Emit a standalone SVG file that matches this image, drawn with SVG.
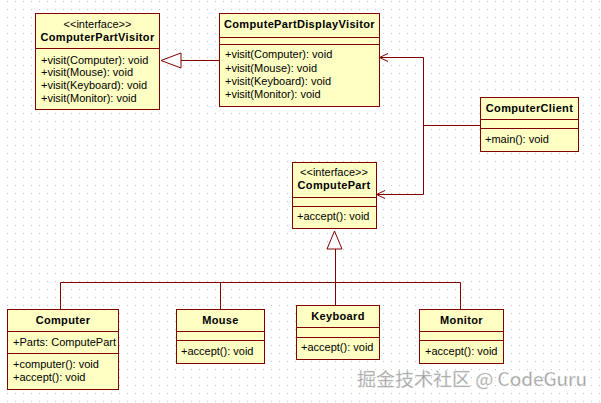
<svg xmlns="http://www.w3.org/2000/svg" width="601" height="403" viewBox="0 0 601 403">
<style>
.box{fill:#FFFFC4;stroke:#800000;stroke-width:1}
.sep{stroke:#800000;stroke-width:1}
.t{font-family:"Liberation Sans",Arial,sans-serif;font-size:11px;fill:#000}
.b{font-family:"Liberation Sans",Arial,sans-serif;font-size:11px;font-weight:bold;fill:#000;text-anchor:middle;letter-spacing:0.35px}
.c{text-anchor:middle}
.ln{fill:none;stroke:#800000;stroke-width:1}
.tri{fill:#fff;stroke:#800000;stroke-width:1}
.wm{font-family:"Noto Sans CJK SC","Noto Sans",sans-serif;font-size:18px;fill:#9a9a9a;stroke:#e8e8e8;stroke-width:0.4}
</style>
<defs>
<pattern id="grid" x="0" y="0" width="8" height="8" patternUnits="userSpaceOnUse">
<rect x="7" y="1" width="1" height="1" fill="#c4c4c4"/>
</pattern>
</defs>
<rect width="601" height="403" fill="#fff"/>
<rect width="601" height="403" fill="url(#grid)"/>

<g id="connectors">
<line class="ln" x1="181" y1="60.5" x2="219" y2="60.5"/>
<polygon class="tri" points="161,60.5 181,53 181,68"/>
<polyline class="ln" points="379,57.5 423.5,57.5 423.5,194.5 376,194.5"/>
<line class="ln" x1="423.5" y1="125.5" x2="480" y2="125.5"/>
<polyline class="ln" points="388,53.5 379.5,57.5 388,61.5"/>
<polyline class="ln" points="385,190.5 376.5,194.5 385,198.5"/>
<polygon class="tri" points="334.5,231 327,249 342,249"/>
<line class="ln" x1="335.5" y1="249" x2="335.5" y2="282.5"/>
<line class="ln" x1="60.5" y1="282.5" x2="460.5" y2="282.5"/>
<line class="ln" x1="60.5" y1="282.5" x2="60.5" y2="309"/>
<line class="ln" x1="220.5" y1="282.5" x2="220.5" y2="309"/>
<line class="ln" x1="335.5" y1="282.5" x2="335.5" y2="305"/>
<line class="ln" x1="460.5" y1="282.5" x2="460.5" y2="309"/>
</g>

<g id="ComputerPartVisitor">
<rect class="box" x="35.5" y="13.5" width="124" height="96"/>
<line class="sep" x1="35.5" y1="48.5" x2="159.5" y2="48.5"/>
<text class="t c" x="97.5" y="28">&lt;&lt;interface&gt;&gt;</text>
<text class="b" x="97.5" y="41">ComputerPartVisitor</text>
<text class="t" x="41" y="64">+visit(Computer): void</text>
<text class="t" x="41" y="76">+visit(Mouse): void</text>
<text class="t" x="41" y="89">+visit(Keyboard): void</text>
<text class="t" x="41" y="102">+visit(Monitor): void</text>
</g>

<g id="ComputePartDisplayVisitor">
<rect class="box" x="219.5" y="13.5" width="160" height="93"/>
<line class="sep" x1="219.5" y1="37.5" x2="379.5" y2="37.5"/>
<line class="sep" x1="219.5" y1="44.5" x2="379.5" y2="44.5"/>
<text class="b" x="299.5" y="28">ComputePartDisplayVisitor</text>
<text class="t" x="225" y="58">+visit(Computer): void</text>
<text class="t" x="225" y="71.5">+visit(Mouse): void</text>
<text class="t" x="225" y="84.5">+visit(Keyboard): void</text>
<text class="t" x="225" y="97.5">+visit(Monitor): void</text>
</g>

<g id="ComputerClient">
<rect class="box" x="480.5" y="97.5" width="98" height="54"/>
<line class="sep" x1="480.5" y1="119.5" x2="578.5" y2="119.5"/>
<line class="sep" x1="480.5" y1="128.5" x2="578.5" y2="128.5"/>
<text class="b" x="529.5" y="112">ComputerClient</text>
<text class="t" x="485" y="143">+main(): void</text>
</g>

<g id="ComputePart">
<rect class="box" x="292.5" y="162.5" width="84" height="66"/>
<line class="sep" x1="292.5" y1="197.5" x2="376.5" y2="197.5"/>
<line class="sep" x1="292.5" y1="206.5" x2="376.5" y2="206.5"/>
<text class="t c" x="334" y="176">&lt;&lt;interface&gt;&gt;</text>
<text class="b" x="334" y="189">ComputePart</text>
<text class="t" x="297" y="220">+accept(): void</text>
</g>

<g id="Computer">
<rect class="box" x="7.5" y="309.5" width="111" height="80"/>
<line class="sep" x1="7.5" y1="331.5" x2="118.5" y2="331.5"/>
<line class="sep" x1="7.5" y1="353.5" x2="118.5" y2="353.5"/>
<text class="b" x="63" y="324">Computer</text>
<text class="t" x="13" y="346">+Parts: ComputePart</text>
<text class="t" x="13" y="368">+computer(): void</text>
<text class="t" x="13" y="381">+accept(): void</text>
</g>

<g id="Mouse">
<rect class="box" x="176.5" y="309.5" width="88" height="54"/>
<line class="sep" x1="176.5" y1="331.5" x2="264.5" y2="331.5"/>
<line class="sep" x1="176.5" y1="340.5" x2="264.5" y2="340.5"/>
<text class="b" x="220.5" y="324">Mouse</text>
<text class="t" x="181" y="355">+accept(): void</text>
</g>

<g id="Keyboard">
<rect class="box" x="296.5" y="305.5" width="83" height="54"/>
<line class="sep" x1="296.5" y1="327.5" x2="379.5" y2="327.5"/>
<line class="sep" x1="296.5" y1="337.5" x2="379.5" y2="337.5"/>
<text class="b" x="338" y="320">Keyboard</text>
<text class="t" x="301" y="351">+accept(): void</text>
</g>

<g id="Monitor">
<rect class="box" x="419.5" y="309.5" width="84" height="54"/>
<line class="sep" x1="419.5" y1="331.5" x2="503.5" y2="331.5"/>
<line class="sep" x1="419.5" y1="340.5" x2="503.5" y2="340.5"/>
<text class="b" x="461.5" y="324">Monitor</text>
<text class="t" x="425" y="355">+accept(): void</text>
</g>

<text class="wm" x="357" y="386" textLength="230" lengthAdjust="spacingAndGlyphs">掘金技术社区 @ CodeGuru</text>
</svg>
